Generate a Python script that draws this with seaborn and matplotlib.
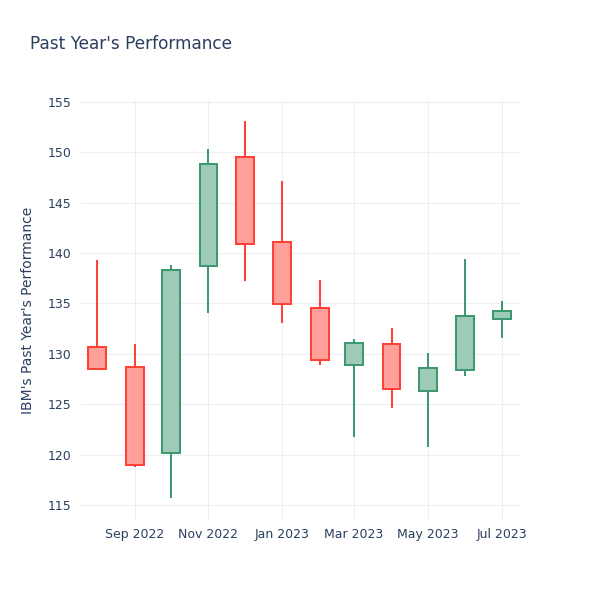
import matplotlib
matplotlib.use("Agg")
import matplotlib.dates as mdates
import numpy as np
import pandas as pd
import seaborn as sns
from matplotlib import pyplot as plt

# monthly OHLC
dates = ["2022-08-01", "2022-09-01", "2022-10-01", "2022-11-01", "2022-12-01", "2023-01-01",
         "2023-02-01", "2023-03-01", "2023-04-01", "2023-05-01", "2023-06-01", "2023-07-01"]
opens = [130.7, 128.7, 120.2, 138.7, 149.5, 141.1, 134.5, 128.9, 131.0, 126.3, 128.4, 133.5]
highs = [139.3, 131.0, 138.8, 150.3, 153.1, 147.2, 137.3, 131.5, 132.6, 130.1, 139.4, 135.2]
lows = [128.4, 118.8, 115.7, 134.1, 137.2, 133.1, 128.9, 121.7, 124.6, 120.7, 127.8, 131.6]
closes = [128.5, 119.0, 138.3, 148.8, 140.9, 134.9, 129.4, 131.1, 126.5, 128.6, 133.8, 134.3]

df = pd.DataFrame({"date": pd.to_datetime(dates), "open": opens, "high": highs,
                   "low": lows, "close": closes})
df["up"] = df["close"] >= df["open"]

sns.set_style("white")
plt.rcParams["font.family"] = ["DejaVu Sans"]
TEXT = "#2a3f5f"
GRID = "#ebf0f8"
UP_LINE, UP_FILL = "#3D9970", "#9ecbb7"
DN_LINE, DN_FILL = "#FF4136", "#ffa09b"

fig = plt.figure(figsize=(6, 6), dpi=100)
ax = fig.add_axes([80 / 600, 80 / 600, 440 / 600, 420 / 600])

x = mdates.date2num(df["date"])
width = 14.8
for xi, row in zip(x, df.itertuples()):
    line = UP_LINE if row.up else DN_LINE
    fill = UP_FILL if row.up else DN_FILL
    lo_body, hi_body = min(row.open, row.close), max(row.open, row.close)
    ax.vlines(xi, row.low, lo_body, color=line, lw=1.45, zorder=3)
    ax.vlines(xi, hi_body, row.high, color=line, lw=1.45, zorder=3)
    ax.bar(xi, hi_body - lo_body, bottom=lo_body, width=width, color=fill,
           edgecolor=line, linewidth=1.45, zorder=4)

ax.set_xlim(mdates.date2num(pd.Timestamp("2022-07-18")),
            mdates.date2num(pd.Timestamp("2023-07-16")))
ax.set_ylim(113.5, 155.2)
ax.set_yticks(np.arange(115, 156, 5))
ax.xaxis.set_major_locator(mdates.MonthLocator(bymonth=[1, 3, 5, 7, 9, 11]))
ax.xaxis.set_major_formatter(mdates.DateFormatter("%b %Y"))

ax.grid(True, color=GRID, lw=0.75, zorder=0)
ax.set_axisbelow(True)
for s in ax.spines.values():
    s.set_visible(False)
ax.tick_params(axis="both", length=0, labelsize=9, colors=TEXT)
ax.tick_params(axis="y", pad=6)
ax.tick_params(axis="x", pad=6)

fig.text(30 / 600, 1 - 44 / 600, "Past Year's Performance", fontsize=12.2,
         color=TEXT, va="center", ha="left")
fig.text(28 / 600, 1 - 310 / 600, "IBM's Past Year's Performance", fontsize=10,
         color=TEXT, va="center", ha="center", rotation=90)

fig.savefig("out.png", dpi=100, facecolor="white")
